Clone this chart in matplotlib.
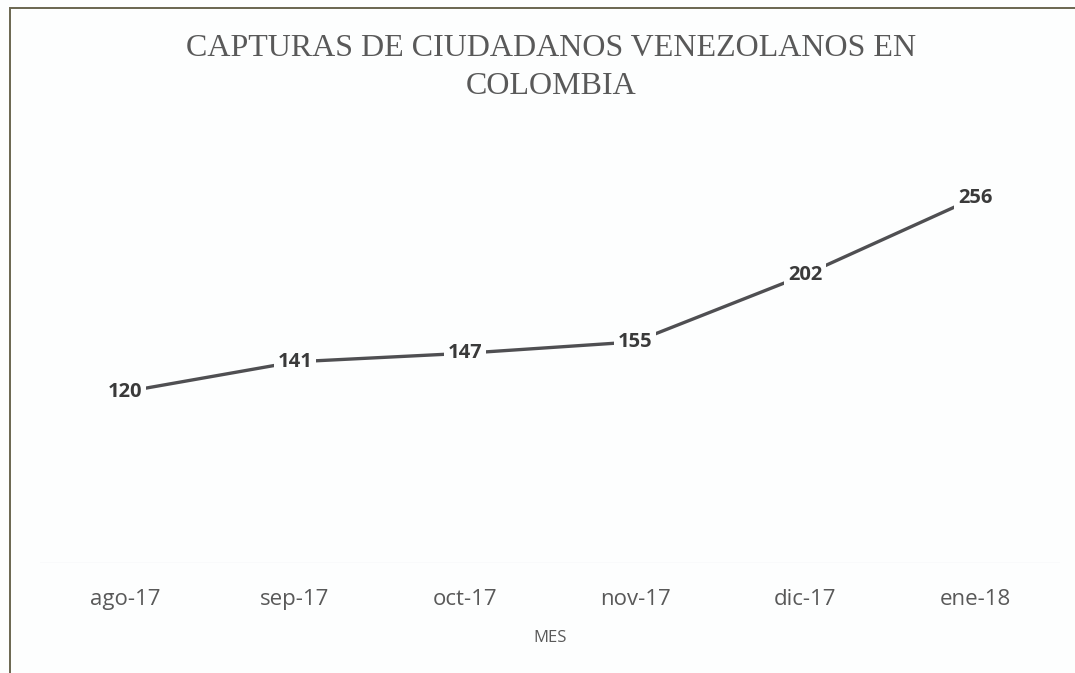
import matplotlib
matplotlib.use("Agg")
from matplotlib import pyplot as plt
from matplotlib.patches import Rectangle

meses = ["ago-17", "sep-17", "oct-17", "nov-17", "dic-17", "ene-18"]
capturas = [120, 141, 147, 155, 202, 256]

W, H = 1075, 673
fig = plt.figure(figsize=(W / 100, H / 100), dpi=100)
fig.patch.set_facecolor("#fdfefe")

# chart frame (top and left edges visible in the scan)
fig.add_artist(Rectangle((10 / W, -0.1), 1.2, (H - 8) / H + 0.1,
                         transform=fig.transFigure, fill=False,
                         edgecolor="#6b6650", lw=1.4))

ax = fig.add_axes([40 / W, (H - 563) / H, 1020 / W, 428 / H])
ax.set_facecolor("none")
x = list(range(len(meses)))
ax.plot(x, capturas, color="#4f4f52", lw=2.4, solid_capstyle="butt")
for xi, v in zip(x, capturas):
    ax.text(xi, v, str(v), ha="center", va="center", fontsize=14.5,
            fontweight="bold", family="Open Sans", color="#3a3a3a",
            bbox=dict(boxstyle="square,pad=0.2", fc="#fdfefe", ec="none"))

ax.set_xlim(-0.5, len(meses) - 0.5)
ax.set_ylim(0, 300)
ax.axhline(0, color="#eceef0", lw=1)
ax.set_yticks([])
ax.set_xticks(x)
ax.set_xticklabels(meses, family="Open Sans", fontsize=16, color="#595959")
ax.tick_params(axis="x", length=0, pad=19)
for s in ax.spines.values():
    s.set_visible(False)

ax.set_xlabel("MES", family="Open Sans", fontsize=12, color="#595959", labelpad=14)

fig.text(551 / W, 1 - 48 / H, "CAPTURAS DE CIUDADANOS VENEZOLANOS EN",
         ha="center", va="center", family="Liberation Serif", fontsize=23,
         color="#595959")
fig.text(551 / W, 1 - 87 / H, "COLOMBIA", ha="center", va="center",
         family="Liberation Serif", fontsize=23, color="#595959")

fig.savefig("out.png", dpi=100, facecolor=fig.get_facecolor())
